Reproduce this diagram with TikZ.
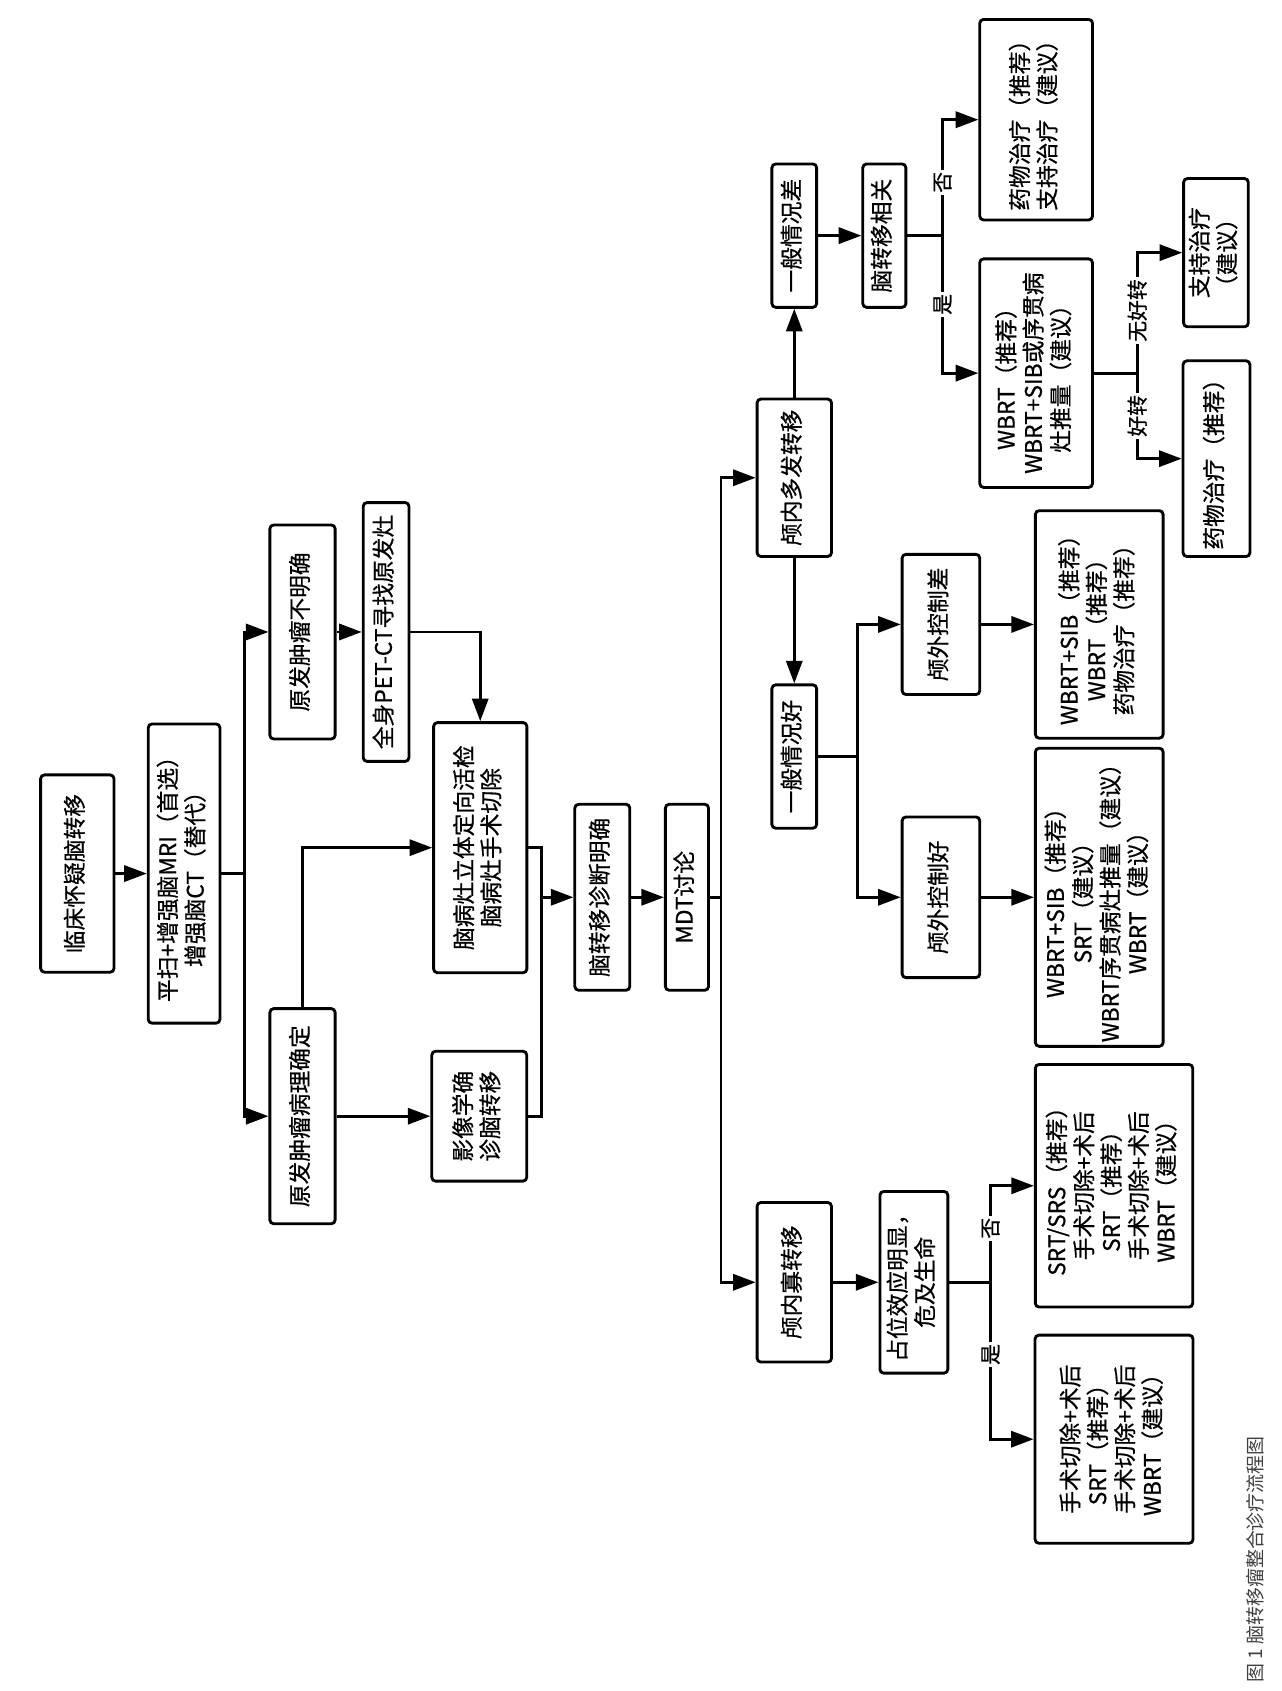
\documentclass[tikz,border=0pt]{standalone}
\usepackage{fontspec}
\usepackage{graphicx}
\usepackage{tikz}
\usetikzlibrary{arrows.meta,positioning,calc}
\newfontfamily\cjk[BoldFont={Noto Sans CJK SC}, BoldFeatures={FakeBold=0.6}]{Noto Sans CJK SC}
\tikzset{
  box/.style={draw, rounded corners=2pt, line width=1.5pt, inner sep=0pt, align=center},
  edge/.style={-{Triangle[length=4.2mm, width=3mm]}, line width=1.5pt},
  link/.style={line width=1.5pt},
  lbl/.style={fill=white, inner sep=1pt, font=\cjk\bfseries\fontsize{11}{13}\selectfont},
}
\newcommand{\vt}[1]{\rotatebox{90}{\begin{tabular}{@{}c@{}}#1\end{tabular}}}

\begin{document}
\begin{tikzpicture}[x=0.02cm, y=-0.02cm, font=\cjk\bfseries\fontsize{12}{14}\selectfont]
  \path[use as bounding box, fill=white] (0,0) rectangle (1188,1568);

  % diagnosis column
  \node[box, minimum width=1.36cm, minimum height=3.66cm] (suspect) at (71.7,810) {\vt{临床怀疑脑转移}};
  \node[box, minimum width=1.33cm, minimum height=5.55cm] (imaging) at (170.7,810) {\vt{平扫+增强脑MRI（首选）\\增强脑CT（替代）}};
  \node[box, minimum width=1.21cm, minimum height=3.97cm] (unclear) at (280.5,586) {\vt{原发肿瘤不明确}};
  \node[box, minimum width=0.85cm, minimum height=4.80cm] (petct) at (358,586) {\vt{全身PET-CT寻找原发灶}};
  \node[box, minimum width=1.73cm, minimum height=4.64cm] (biopsy) at (445.3,786) {\vt{脑病灶立体定向活检\\脑病灶手术切除}};
  \node[box, minimum width=1.21cm, minimum height=3.99cm] (confirmed) at (280.5,1035) {\vt{原发肿瘤病理确定}};
  \node[box, minimum width=1.76cm, minimum height=2.41cm] (imagedx) at (444.4,1035) {\vt{影像学确\\诊脑转移}};
  \node[box, minimum width=1.02cm, minimum height=3.45cm] (diag) at (558.5,832) {\vt{脑转移诊断明确}};
  \node[box, minimum width=0.80cm, minimum height=3.45cm] (mdt) at (637,832) {\vt{MDT讨论}};

  % multiple metastases
  \node[box, minimum width=1.38cm, minimum height=2.92cm] (multi) at (736.5,443) {\vt{颅内多发转移}};
  \node[box, minimum width=0.83cm, minimum height=2.66cm] (poor) at (736.5,218.5) {\vt{一般情况差}};
  \node[box, minimum width=0.83cm, minimum height=2.66cm] (good) at (736.5,701.5) {\vt{一般情况好}};
  \node[box, minimum width=0.80cm, minimum height=2.66cm] (related) at (820,218.5) {\vt{脑转移相关}};
  \node[box, minimum width=2.09cm, minimum height=3.72cm] (palli) at (960.75,111) {\vt{药物治疗（推荐）\\支持治疗（建议）}};
  \node[box, minimum width=2.09cm, minimum height=4.24cm] (wbrt) at (960.75,346) {\vt{WBRT（推荐）\\WBRT+SIB或序贯病\\灶推量（建议）}};
  \node[box, minimum width=1.20cm, minimum height=2.75cm] (support) at (1127.5,234.3) {\vt{支持治疗\\（建议）}};
  \node[box, minimum width=1.24cm, minimum height=3.63cm] (drug) at (1128,425.3) {\vt{药物治疗（推荐）}};
  \node[box, minimum width=1.44cm, minimum height=2.60cm] (ctrlpoor) at (872.5,579) {\vt{颅外控制差}};
  \node[box, minimum width=1.44cm, minimum height=2.98cm] (ctrlgood) at (872.5,832) {\vt{颅外控制好}};
  \node[box, minimum width=2.37cm, minimum height=4.22cm] (regpoor) at (1019.3,579) {\vt{WBRT+SIB（推荐）\\WBRT（推荐）\\药物治疗（推荐）}};
  \node[box, minimum width=2.37cm, minimum height=5.53cm] (reggood) at (1019.3,832) {\vt{WBRT+SIB（推荐）\\SRT（建议）\\WBRT序贯病灶推量（建议）\\WBRT（建议）}};

  % oligometastases
  \node[box, minimum width=1.38cm, minimum height=2.96cm] (oligo) at (736.5,1189) {\vt{颅内寡转移}};
  \node[box, minimum width=1.26cm, minimum height=3.37cm] (mass) at (847.4,1189) {\vt{占位效应明显，\\危及生命}};
  \node[box, minimum width=2.92cm, minimum height=4.50cm] (srs) at (1033,1099.5) {\vt{SRT/SRS（推荐）\\手术切除+术后\\SRT（推荐）\\手术切除+术后\\WBRT（建议）}};
  \node[box, minimum width=2.93cm, minimum height=3.86cm] (surg) at (1033,1334.5) {\vt{手术切除+术后\\SRT（推荐）\\手术切除+术后\\WBRT（建议）}};

  \node[font=\cjk\mdseries\fontsize{10}{12}\selectfont, text=black!75] (caption) at (1164,1446) {\rotatebox{90}{图 1 脑转移瘤整合诊疗流程图}};

  % split points
  \coordinate (s1) at (227,810);
  \coordinate (s2) at (502.3,832);
  \coordinate (s3) at (668.6,832);
  \coordinate (s4) at (874,218.5);
  \coordinate (s5) at (1054.5,346);
  \coordinate (s6) at (795,701.5);
  \coordinate (s7) at (918.5,1189);

  \draw[edge] (suspect) -- (imaging);
  \draw[link] (imaging) -- (s1);
  \draw[edge] (s1) |- (unclear);
  \draw[edge] (s1) |- (confirmed);
  \draw[edge] (unclear) -- (petct);
  \draw[edge] (petct.east) -| (biopsy.north);
  \draw[edge] (confirmed.north) |- (biopsy.west);
  \draw[edge] (confirmed) -- (imagedx);
  \draw[link] (biopsy.east) -| (s2);
  \draw[link] (imagedx.east) -| (s2);
  \draw[edge] (s2) -- (diag);
  \draw[edge] (diag) -- (mdt);
  \draw[link] (mdt) -- (s3);
  \draw[edge] (s3) |- (multi);
  \draw[edge] (s3) |- (oligo);

  \draw[edge] (multi) -- (poor);
  \draw[edge] (multi) -- (good);
  \draw[edge] (poor) -- (related);
  \draw[link] (related) -- (s4);
  \draw[edge] (s4) |- node[lbl, pos=0.23] {\rotatebox{90}{否}} (palli);
  \draw[edge] (s4) |- node[lbl, pos=0.25] {\rotatebox{90}{是}} (wbrt);
  \draw[link] (wbrt) -- (s5);
  \draw[edge] (s5) |- node[lbl, pos=0.26] {\rotatebox{90}{无好转}} (support);
  \draw[edge] (s5) |- node[lbl, pos=0.25] {\rotatebox{90}{好转}} (drug);
  \draw[link] (good) -- (s6);
  \draw[edge] (s6) |- (ctrlpoor);
  \draw[edge] (s6) |- (ctrlgood);
  \draw[edge] (ctrlpoor) -- (regpoor);
  \draw[edge] (ctrlgood) -- (reggood);

  \draw[edge] (oligo) -- (mass);
  \draw[link] (mass) -- (s7);
  \draw[edge] (s7) |- node[lbl, pos=0.28] {\rotatebox{90}{否}} (srs);
  \draw[edge] (s7) |- node[lbl, pos=0.23] {\rotatebox{90}{是}} (surg);
\end{tikzpicture}
\end{document}
